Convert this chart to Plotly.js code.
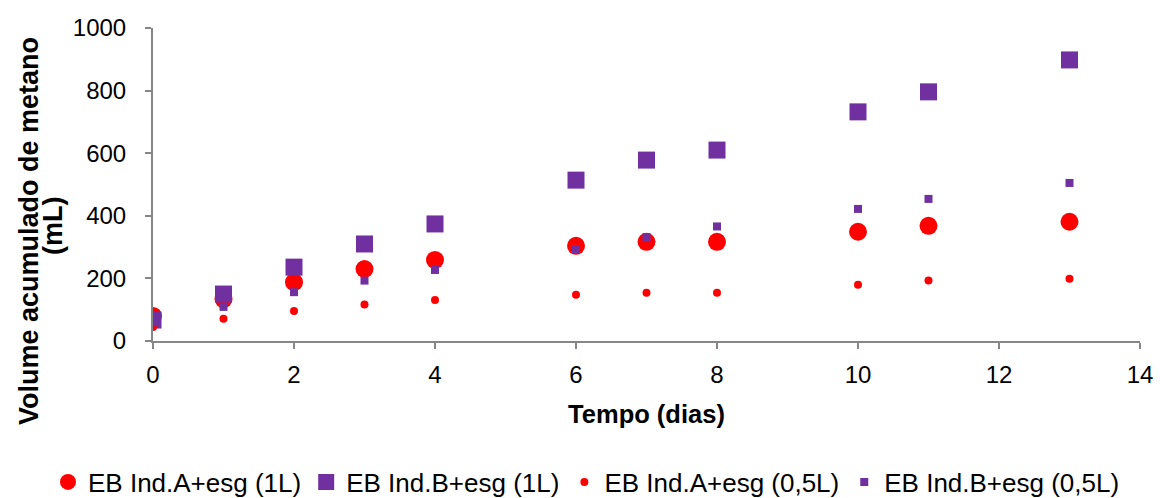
<!DOCTYPE html>
<html><head><meta charset="utf-8">
<script src="https://cdn.plot.ly/plotly-3.0.1.min.js"></script>
<style>html,body{margin:0;padding:0;background:#fff}#chart{width:1160px;height:498px}</style>
</head><body><div id="chart"></div>
<script>
const dias = [0, 1, 2, 3, 4, 6, 7, 8, 10, 11, 13];
const indA_1L = [80, 134, 188, 230, 259, 304, 317, 317, 349, 368, 381];
const indB_1L = [67, 150, 236, 310, 374, 514, 578, 610, 732, 796, 898];
const indA_05L = [45, 71, 96, 117, 131, 148, 154, 154, 180, 193, 199];
const indB_05L = [60, 109, 156, 193, 227, 294, 332, 366, 422, 454, 505];
const names = ["EB Ind.A+esg (1L)", "EB Ind.B+esg (1L)", "EB Ind.A+esg (0,5L)", "EB Ind.B+esg (0,5L)"];
const yTitle = ["Volume acumulado de metano", "(mL)"];
const xTitle = "Tempo (dias)";

const red = "#ff0000", purple = "#7030a0";
const traces = [
  {x: dias, y: indA_1L, name: names[0], mode: "markers", type: "scatter",
   marker: {symbol: "circle", size: 18, color: red}},
  {x: dias, y: indB_1L, name: names[1], mode: "markers", type: "scatter",
   marker: {symbol: "square", size: 17, color: purple}},
  {x: dias, y: indA_05L, name: names[2], mode: "markers", type: "scatter",
   marker: {symbol: "circle", size: 8, color: red}},
  {x: dias, y: indB_05L, name: names[3], mode: "markers", type: "scatter",
   marker: {symbol: "square", size: 8, color: purple}}
];
const fam = "Liberation Sans, Arial, sans-serif";
const tickFont = {family: fam, size: 24, color: "#000"};
const xTitleFont = {family: fam, size: 25.5, color: "#000"};
const yTitleFont = {family: fam, size: 27, color: "#000"};
const legFont = {family: fam, size: 26, color: "#000"};
const H = 498, W = 1160;
const L = 153, R = 20, T = 28, B = 157;
const pw = W - L - R, ph = H - T - B;
const layout = {
  width: W, height: H,
  margin: {l: L, r: R, t: T, b: B, autoexpand: false},
  paper_bgcolor: "#fff", plot_bgcolor: "#fff",
  font: tickFont,
  showlegend: true,
  legend: {orientation: "h", x: (48 - L) / pw, xref: "paper", xanchor: "left",
           y: (H - B - 482) / ph, yref: "paper", yanchor: "middle",
           font: legFont, itemwidth: 30, tracegroupgap: 0},
  xaxis: {range: [0, 14], dtick: 2, tick0: 0, showgrid: false, zeroline: false,
          showline: true, linecolor: "#868686", linewidth: 2,
          ticks: "outside", ticklen: 6, tickcolor: "#868686", tickwidth: 2,
          tickfont: tickFont, automargin: false, ticklabelstandoff: 5,
          title: {text: "<b>" + xTitle + "</b>", font: xTitleFont, standoff: 18}},
  yaxis: {range: [0, 1000], dtick: 200, tick0: 0, showgrid: false, zeroline: false,
          showline: true, linecolor: "#868686", linewidth: 2,
          ticks: "outside", ticklen: 6, tickcolor: "#868686", tickwidth: 2,
          tickfont: tickFont, automargin: false, ticklabelstandoff: 14},
  annotations: [
    {text: "<b>" + yTitle[0] + "</b>", textangle: -90, showarrow: false,
     xref: "paper", yref: "paper", x: (29 - L) / pw, y: (H - B - 231) / ph,
     xanchor: "center", yanchor: "middle", font: yTitleFont},
    {text: "<b>" + yTitle[1] + "</b>", textangle: -90, showarrow: false,
     xref: "paper", yref: "paper", x: (53 - L) / pw, y: (H - B - 226) / ph,
     xanchor: "center", yanchor: "middle", font: yTitleFont}
  ]
};
Plotly.newPlot("chart", traces, layout, {displayModeBar: false, staticPlot: true});
</script>
</body></html>
